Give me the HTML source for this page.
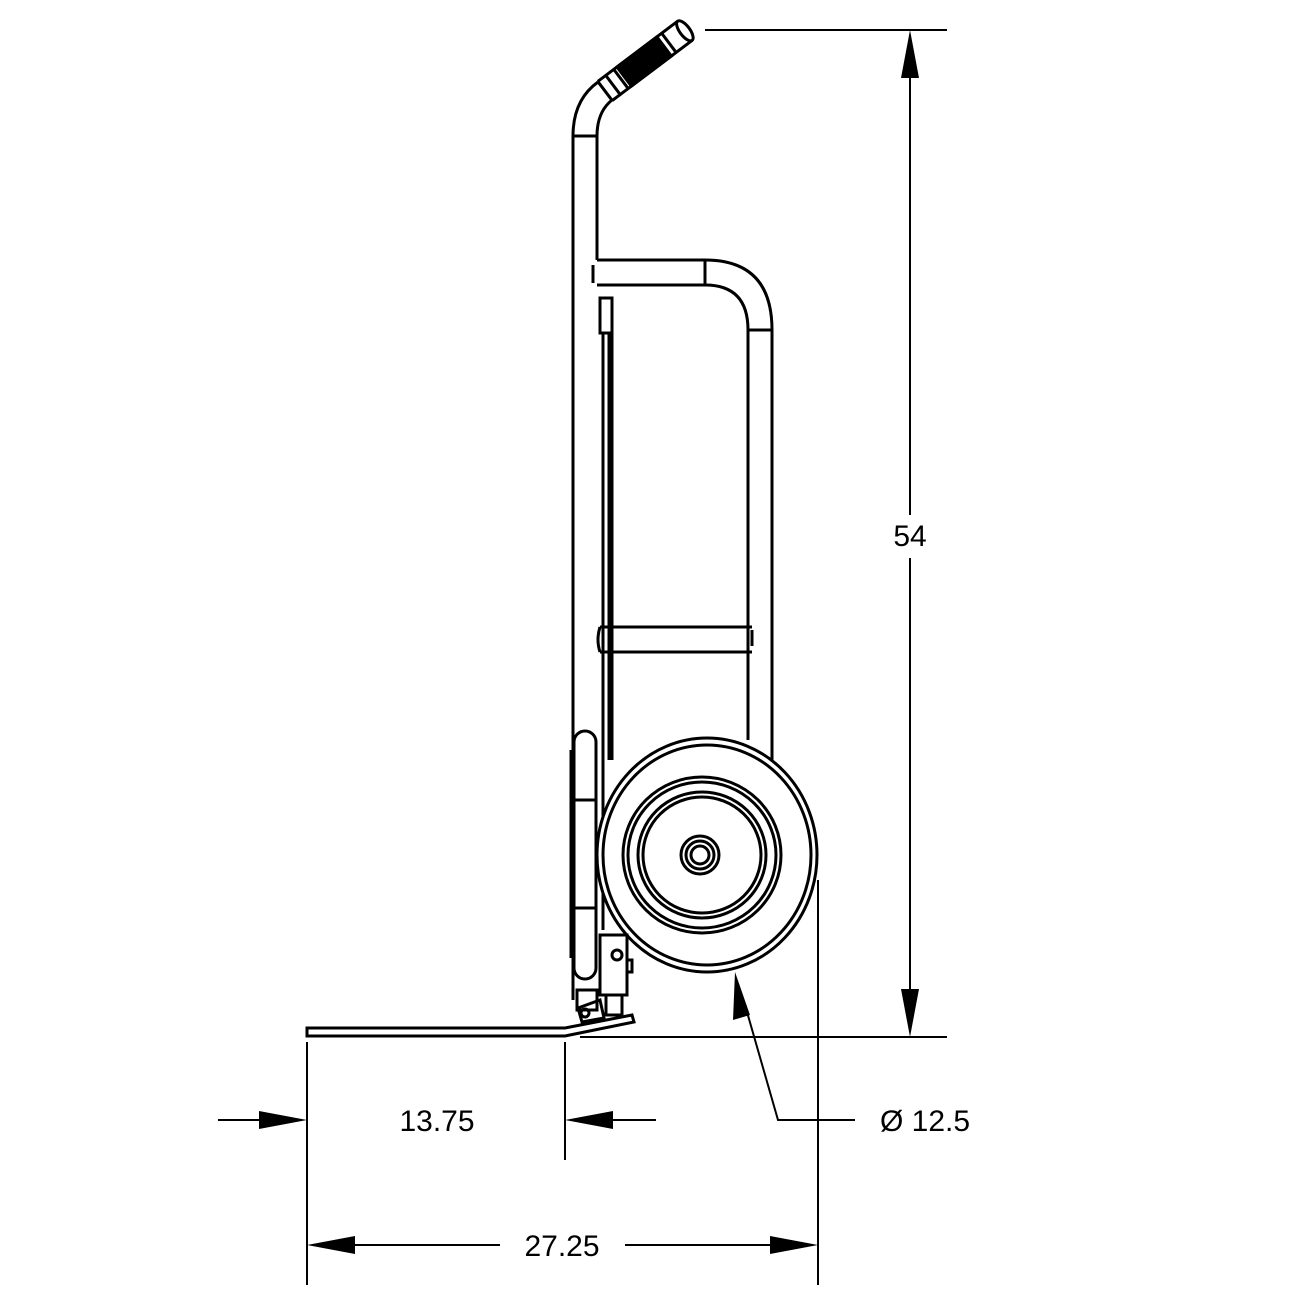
<!DOCTYPE html>
<html><head><meta charset="utf-8"><style>
html,body{margin:0;padding:0;background:#fff;}
svg{display:block;}
text{font-family:"Liberation Sans",sans-serif;font-size:30px;fill:#000;}
</style></head><body>
<svg width="1307" height="1307" viewBox="0 0 1307 1307" xmlns="http://www.w3.org/2000/svg">
<g fill="none" stroke="#000" stroke-width="3">
<!-- left rail + handle -->
<path d="M573 1000 V136 Q573 100 598 82"/>
<path d="M597 260 V136 Q597 112 612 100"/>
<line x1="573" y1="136" x2="597" y2="136"/>
<!-- grip -->
<g transform="translate(605,91) rotate(-37)">
<path d="M0 -12 H100 M0 12 H100 M0 -12 L0 12"/>
<line x1="10" y1="-12" x2="10" y2="12"/>
<line x1="20" y1="-12" x2="20" y2="12"/>
<rect x="24" y="-12" width="50" height="24" fill="#000"/>
<line x1="80" y1="-12" x2="80" y2="12"/>
<ellipse cx="100" cy="0" rx="5" ry="12"/>
</g>
<!-- top crossbar and right rail -->
<path d="M597 260 H705 Q772 260 772 330 V760"/>
<path d="M597 285 H705 Q748 285 748 330 V740"/>
<line x1="705" y1="260" x2="705" y2="285"/>
<line x1="748" y1="330" x2="772" y2="330"/>
<line x1="593" y1="265" x2="593" y2="283"/>
<!-- inner rail -->
<rect x="600" y="298" width="12" height="35"/>
<line x1="603" y1="333" x2="603" y2="930"/>
<line x1="609" y1="333" x2="609" y2="760"/>
<line x1="612" y1="333" x2="612" y2="760"/>
<!-- middle crossbar -->
<path d="M600 627 H752 M600 652 H752 M600 627 Q596 640 600 652"/>
<line x1="752" y1="630" x2="752" y2="646"/>
<!-- tall bumper -->
<rect x="574" y="731" width="22" height="248" rx="11"/>
<line x1="571" y1="750" x2="571" y2="958"/>
<line x1="574" y1="800" x2="596" y2="800"/>
<line x1="574" y1="908" x2="596" y2="908"/>
<!-- wheel -->
<ellipse cx="707" cy="855" rx="110" ry="117" fill="#fff"/>
<ellipse cx="707" cy="855" rx="104" ry="110"/>
<ellipse cx="702" cy="855" rx="79" ry="78"/>
<ellipse cx="702" cy="855" rx="74" ry="73"/>
<ellipse cx="702" cy="855" rx="64" ry="63"/>
<ellipse cx="702" cy="855" rx="59" ry="58"/>
<circle cx="700" cy="855" r="19"/>
<circle cx="700" cy="855" r="14"/>
<circle cx="700" cy="855" r="9"/>
<!-- axle bracket -->
<rect x="600" y="935" width="27" height="60"/>
<circle cx="617" cy="955" r="5"/>
<rect x="627" y="960" width="5" height="12"/>
<rect x="577" y="990" width="20" height="20"/>
<rect x="606" y="995" width="16" height="20"/>
<path d="M578 1008 L600 1000 L604 1018 L582 1022 Z"/>
<circle cx="585" cy="1013" r="4"/>
<!-- nose plate -->
<path d="M307 1028 H565 L632 1015 L634 1022 L565 1036 H307 Z"/>
<!-- dimensions -->
<g stroke-width="2">
<line x1="705" y1="30" x2="947" y2="30"/>
<line x1="580" y1="1037" x2="947" y2="1037"/>
<line x1="910" y1="70" x2="910" y2="515"/>
<line x1="910" y1="558" x2="910" y2="995"/>
<line x1="307" y1="1042" x2="307" y2="1285"/>
<line x1="565" y1="1042" x2="565" y2="1160"/>
<line x1="818" y1="880" x2="818" y2="1285"/>
<line x1="218" y1="1120" x2="265" y2="1120"/>
<line x1="610" y1="1120" x2="656" y2="1120"/>
<line x1="355" y1="1245" x2="500" y2="1245"/>
<line x1="625" y1="1245" x2="770" y2="1245"/>
<polyline points="745,1005 778,1120 855,1120"/>
</g>
</g>
<g fill="#000">
<polygon points="910,30 901,78 919,78"/>
<polygon points="910,1037 901,989 919,989"/>
<polygon points="307,1120 259,1111 259,1129"/>
<polygon points="565,1120 613,1111 613,1129"/>
<polygon points="307,1245 355,1236 355,1254"/>
<polygon points="818,1245 770,1236 770,1254"/>
<polygon points="735,972 733,1020 750,1015"/>
</g>
<text x="910" y="546" text-anchor="middle">54</text>
<text x="437" y="1131" text-anchor="middle">13.75</text>
<text x="562" y="1256" text-anchor="middle">27.25</text>
<text x="880" y="1131">Ø 12.5</text>
</svg>
</body></html>
